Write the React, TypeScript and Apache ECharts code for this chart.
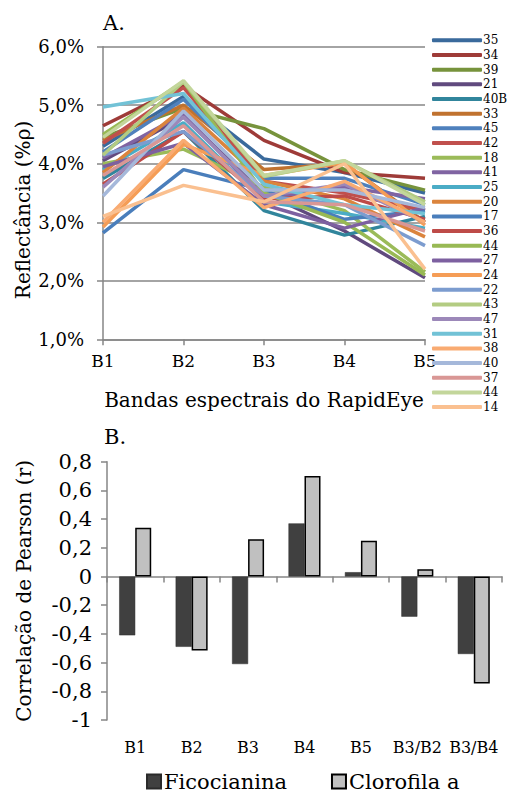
import React, { useEffect, useRef } from 'react';
import * as echarts from 'echarts';

const bands = ['B1', 'B2', 'B3', 'B4', 'B5'];
const sampleLabels = ['35', '34', '39', '21', '40B', '33', '45', '42', '18', '41', '25', '20', '17', '36', '44', '27', '24', '22', '43', '47', '31', '38', '40', '37', '44', '14'];

const r35 = [4.30, 5.15, 4.08, 3.85, 3.50];
const r34 = [4.65, 5.33, 4.40, 3.85, 3.75];
const r39 = [4.45, 4.95, 4.60, 3.90, 3.55];
const r21 = [4.05, 4.80, 3.50, 2.85, 2.05];
const r40B = [3.75, 4.55, 3.20, 2.78, 3.10];
const r33 = [4.40, 5.00, 3.90, 4.00, 3.00];
const r45 = [4.20, 5.10, 3.75, 3.75, 3.30];
const r42 = [4.35, 5.30, 3.70, 3.50, 3.20];
const r18 = [4.00, 4.25, 3.60, 3.20, 2.15];
const r41 = [4.10, 4.85, 3.40, 3.60, 3.40];
const r25 = [3.90, 4.70, 3.35, 3.15, 2.90];
const r20 = [3.85, 4.95, 3.70, 3.40, 2.75];
const r17 = [2.82, 3.90, 3.55, 3.05, 3.20];
const r36 = [3.65, 4.55, 3.40, 3.45, 3.05];
const r44a = [4.50, 5.40, 3.50, 3.00, 2.10];
const r27 = [3.95, 4.35, 3.30, 2.90, 3.25];
const r24 = [2.92, 4.33, 3.80, 4.02, 2.95];
const r22 = [4.15, 4.55, 3.45, 3.30, 2.60];
const r43 = [4.15, 5.40, 3.78, 4.05, 3.35];
const r47 = [3.60, 4.80, 3.45, 3.65, 3.00];
const r31 = [4.97, 5.20, 3.65, 3.30, 3.15];
const r38 = [3.00, 4.40, 3.25, 3.70, 3.00];
const r40 = [3.45, 4.90, 3.55, 3.55, 3.25];
const r37 = [3.80, 4.65, 3.35, 3.30, 2.85];
const r44b = [4.45, 5.42, 3.80, 4.05, 3.30];
const r14 = [3.10, 3.63, 3.35, 4.00, 2.20];

const reflectance = [r35, r34, r39, r21, r40B, r33, r45, r42, r18, r41, r25, r20, r17, r36, r44a, r27, r24, r22, r43, r47, r31, r38, r40, r37, r44b, r14];

const lineColors = ['#3A6A9C', '#9E3B38', '#77933C', '#604A7E', '#31859C', '#C0722F', '#4F81BD', '#C0504D', '#9BBB59', '#8064A2', '#4BACC6', '#DB843D', '#4A7EBB', '#BE4B48', '#98B954', '#7D60A0', '#F59D56', '#7C9CCF', '#B3CC82', '#9C88B9', '#72C2D6', '#F9AB72', '#A5B8DA', '#D99795', '#C3D69B', '#FAC090'];

const corrCategories = ['B1', 'B2', 'B3', 'B4', 'B5', 'B3/B2', 'B3/B4'];
const ficocianina = [-0.41, -0.49, -0.61, 0.37, 0.03, -0.28, -0.54];
const clorofila = [0.34, -0.515, 0.26, 0.70, 0.25, 0.05, -0.745];

const FONT = 'DejaVu Serif';
const GRAY = '#868686';

export default function App() {
  const ref = useRef<HTMLDivElement>(null);
  useEffect(() => {
    if (!ref.current) return;
    const chart = echarts.init(ref.current, null, { renderer: 'svg' });
    const ids = sampleLabels.map((_, i) => 's' + i);
    const lineSeries = reflectance.map((vals, i) => ({
      name: ids[i],
      type: 'line',
      xAxisIndex: 0,
      yAxisIndex: 0,
      data: vals,
      symbol: 'none',
      lineStyle: { width: 3.5, color: lineColors[i] },
      itemStyle: { color: lineColors[i] },
    }));
    const fmtComma = (v: number) => {
      const r = Math.round(v * 10) / 10;
      if (Number.isInteger(r)) return String(r);
      return r.toFixed(1).replace('.', ',');
    };
    chart.setOption({
      animation: false,
      textStyle: { fontFamily: FONT },
      grid: [
        { left: 103, top: 46.7, width: 322, height: 292.6, outerBoundsMode: 'none', containLabel: false },
        { left: 107, top: 461.7, width: 395, height: 258.3, outerBoundsMode: 'none', containLabel: false },
      ],
      legend: [
        {
          orient: 'vertical',
          left: 432,
          top: 33,
          padding: 0,
          data: ids,
          formatter: (name: string) => sampleLabels[Number(name.slice(1))],
          icon: 'roundRect',
          itemWidth: 50,
          itemHeight: 4,
          itemGap: 0,
          textStyle: { fontFamily: FONT, fontSize: 12, lineHeight: 14.67, height: 14.67, color: '#000', padding: [0, 0, 0, -4] },
        },
        {
          left: 146,
          top: 771,
          padding: 0,
          data: ['Ficocianina', 'Clorofila a'],
          itemWidth: 14,
          itemHeight: 14,
          itemGap: 44,
          icon: 'rect',
          textStyle: { fontFamily: FONT, fontSize: 21, color: '#000', padding: [0, 0, 0, -2] },
        },
      ],
      xAxis: [
        {
          type: 'category',
          gridIndex: 0,
          data: bands,
          boundaryGap: false,
          axisLine: { lineStyle: { color: GRAY, width: 1.5 } },
          axisTick: { show: true, length: 6, lineStyle: { color: GRAY, width: 1.5 } },
          axisLabel: { color: '#000', fontSize: 17, fontFamily: FONT, margin: 13 },
          name: 'Bandas espectrais do RapidEye',
          nameLocation: 'middle',
          nameGap: 51,
          nameTextStyle: { color: '#000', fontSize: 20, fontFamily: FONT },
        },
        {
          type: 'category',
          gridIndex: 1,
          data: corrCategories,
          axisLine: { onZero: true, lineStyle: { color: GRAY, width: 1.5 } },
          axisTick: { show: true, length: 6, lineStyle: { color: GRAY, width: 1.5 } },
          axisLabel: { show: false },
        },
        {
          type: 'category',
          gridIndex: 1,
          position: 'bottom',
          data: corrCategories,
          axisLine: { show: false, onZero: false },
          axisTick: { show: false },
          axisLabel: { color: '#000', fontSize: 16, fontFamily: FONT, margin: 19, interval: 0 },
        },
      ],
      yAxis: [
        {
          type: 'value',
          gridIndex: 0,
          min: 1,
          max: 6,
          interval: 1,
          axisLine: { show: true, lineStyle: { color: GRAY, width: 1.5 } },
          axisTick: { show: true, length: 6, lineStyle: { color: GRAY, width: 1.5 } },
          splitLine: { show: true, lineStyle: { color: GRAY, width: 1.5 } },
          axisLabel: {
            color: '#000', fontSize: 18, fontFamily: FONT, margin: 19,
            formatter: (v: number) => v.toFixed(1).replace('.', ',') + '%',
          },
        },
        {
          type: 'value',
          gridIndex: 1,
          min: -1,
          max: 0.8,
          interval: 0.2,
          axisLine: { show: true, lineStyle: { color: GRAY, width: 1.5 } },
          axisTick: { show: true, length: 6, lineStyle: { color: GRAY, width: 1.5 } },
          splitLine: { show: false },
          axisLabel: { color: '#000', fontSize: 21, fontFamily: FONT, margin: 15, formatter: fmtComma },
          name: 'Correlação de Pearson (r)',
          nameLocation: 'middle',
          nameGap: 73,
          nameTextStyle: { color: '#000', fontSize: 20, fontFamily: FONT },
        },
      ],
      graphic: [
        { type: 'text', left: 103, top: 12, style: { text: 'A.', fontSize: 21, fontFamily: FONT, fill: '#000' } },
        { type: 'text', left: 104, top: 426, style: { text: 'B.', fontSize: 21, fontFamily: FONT, fill: '#000' } },
        {
          type: 'text', x: 23, y: 210, rotation: Math.PI / 2,
          style: { text: 'Reflectância (%ρ)', fontSize: 20, fontFamily: FONT, fill: '#000', align: 'center', verticalAlign: 'middle' },
        },
      ],
      series: [
        ...lineSeries,
        {
          name: 'Ficocianina',
          type: 'bar',
          xAxisIndex: 1,
          yAxisIndex: 1,
          data: ficocianina,
          barWidth: 16,
          barGap: '0%',
          itemStyle: { color: '#404040', borderColor: '#2a2a2a', borderWidth: 0.5 },
        },
        {
          name: 'Clorofila a',
          type: 'bar',
          xAxisIndex: 1,
          yAxisIndex: 1,
          data: clorofila,
          barWidth: 16,
          barGap: '0%',
          itemStyle: { color: '#C0C0C0', borderColor: '#000', borderWidth: 1.5 },
        },
      ],
    });
    return () => chart.dispose();
  }, []);
  return <div ref={ref} style={{ position: 'fixed', left: 0, top: 0, width: 507, height: 796, background: '#fff' }} />;
}
